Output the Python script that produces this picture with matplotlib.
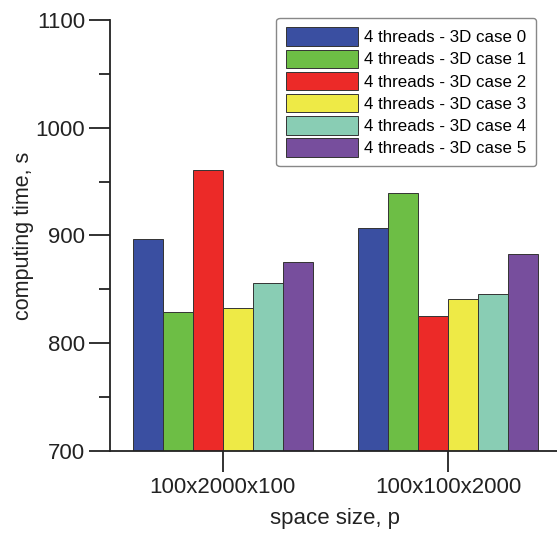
import numpy as np
import matplotlib
matplotlib.use("Agg")
import matplotlib.pyplot as plt
from matplotlib.ticker import MultipleLocator

plt.rcParams['font.family'] = ['Liberation Sans', 'DejaVu Sans']

sizes = ['100x2000x100', '100x100x2000']
cases = ['4 threads - 3D case 0', '4 threads - 3D case 1', '4 threads - 3D case 2',
         '4 threads - 3D case 3', '4 threads - 3D case 4', '4 threads - 3D case 5']
case0 = [897, 907]
case1 = [829, 939]
case2 = [961, 825]
case3 = [833, 841]
case4 = [856, 846]
case5 = [875, 883]
colors = ['#3a4fa1', '#6dbe45', '#ec2a28', '#eeea46', '#89cdb4', '#774e9d']

series = [case0, case1, case2, case3, case4, case5]

fig = plt.figure(figsize=(5.57, 5.46), dpi=100)
ax = fig.add_axes([110 / 557, 1 - 451 / 546, (561 - 110) / 557, (451 - 20) / 546])

x = np.arange(len(sizes))
w = 0.8 / len(series)
for i, (vals, lab, c) in enumerate(zip(series, cases, colors)):
    ax.bar(x - 0.4 + w * (i + 0.5), vals, width=w, color=c, label=lab,
           edgecolor='#333333', linewidth=0.7, bottom=0)

ax.set_ylim(700, 1100)
ax.set_xlim(-0.5, 1.5)
ax.yaxis.set_major_locator(MultipleLocator(100))
ax.yaxis.set_minor_locator(MultipleLocator(50))
ax.set_xticks(x)
ax.set_xticklabels(sizes)

for s in ['top', 'right']:
    ax.spines[s].set_visible(False)
for s in ['left', 'bottom']:
    ax.spines[s].set_linewidth(1.3)
    ax.spines[s].set_color('#222222')

ax.tick_params(axis='both', which='major', direction='out', length=15, width=1.3,
               labelsize=16, color='#222222', labelcolor='#222222', pad=3)
ax.tick_params(axis='x', which='major', pad=4)
ax.tick_params(axis='y', which='minor', direction='out', length=8, width=1.3, color='#222222')

ax.set_ylabel('computing time, s', fontsize=15.5, color='#222222', labelpad=1)
ax.set_xlabel('space size, p', fontsize=16, color='#222222', labelpad=7)

leg = ax.legend(loc='upper right', bbox_to_anchor=(536 / 557, 1 - 18 / 546),
                bbox_transform=fig.transFigure, fontsize=12.2, borderaxespad=0,
                handlelength=4.25, handleheight=1.3, handletextpad=0.4,
                labelspacing=0.22, borderpad=0.55, fancybox=True, framealpha=1)
leg.get_frame().set_edgecolor('#888888')
leg.get_frame().set_linewidth(1.0)

fig.savefig('out.png', dpi=100)
